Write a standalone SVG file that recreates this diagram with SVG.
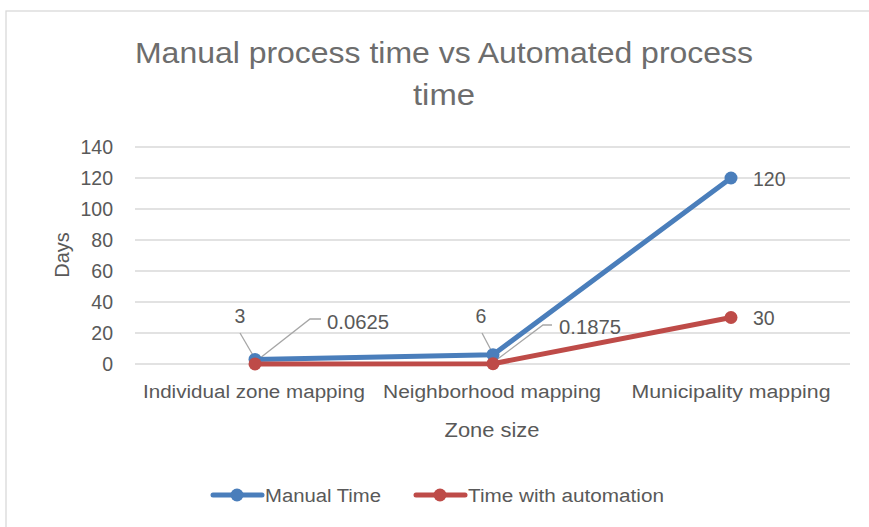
<svg xmlns="http://www.w3.org/2000/svg" width="869" height="527" viewBox="0 0 869 527">
<style>
text{font-family:"Liberation Sans",Arial,sans-serif;fill:#595959}
.tick{font-size:19.5px;text-anchor:end}
.cat{font-size:18px;text-anchor:middle}
.lbl{font-size:19.5px}
.grid{stroke:#d9d9d9;stroke-width:1.3}
.lead{stroke:#a6a6a6;stroke-width:1.3;fill:none}
.blue{stroke:#4a7ebb;stroke-width:5;fill:none;stroke-linejoin:round;stroke-linecap:round}
.red{stroke:#be4b48;stroke-width:5;fill:none;stroke-linejoin:round;stroke-linecap:round}
</style>
<rect x="0" y="0" width="869" height="527" fill="#ffffff"/>
<rect x="6" y="11" width="880" height="540" fill="#ffffff" stroke="#d9d9d9" stroke-width="1.3"/>
<g id="title">
<text x="444" y="63" font-size="30" text-anchor="middle" textLength="618" lengthAdjust="spacingAndGlyphs" style="fill:#6d6d6d">Manual process time vs Automated process</text>
<text x="444" y="105" font-size="30" text-anchor="middle" textLength="62" lengthAdjust="spacingAndGlyphs" style="fill:#6d6d6d">time</text>
</g>
<g id="grid">
<line class="grid" x1="135" y1="147" x2="850" y2="147"/>
<line class="grid" x1="135" y1="178" x2="850" y2="178"/>
<line class="grid" x1="135" y1="209" x2="850" y2="209"/>
<line class="grid" x1="135" y1="240" x2="850" y2="240"/>
<line class="grid" x1="135" y1="271" x2="850" y2="271"/>
<line class="grid" x1="135" y1="302" x2="850" y2="302"/>
<line class="grid" x1="135" y1="333" x2="850" y2="333"/>
<line class="grid" x1="135" y1="364" x2="850" y2="364"/>
</g>
<g id="yaxis">
<text class="tick" x="113" y="154">140</text>
<text class="tick" x="113" y="185">120</text>
<text class="tick" x="113" y="216">100</text>
<text class="tick" x="113" y="247">80</text>
<text class="tick" x="113" y="278">60</text>
<text class="tick" x="113" y="309">40</text>
<text class="tick" x="113" y="340">20</text>
<text class="tick" x="113" y="371">0</text>
<text x="69" y="255" font-size="20" text-anchor="middle" transform="rotate(-90 69 255)">Days</text>
</g>
<g id="xaxis">
<text class="cat" x="254" y="398" textLength="222" lengthAdjust="spacingAndGlyphs">Individual zone mapping</text>
<text class="cat" x="492" y="398" textLength="218" lengthAdjust="spacingAndGlyphs">Neighborhood mapping</text>
<text class="cat" x="731" y="398" textLength="199" lengthAdjust="spacingAndGlyphs">Municipality mapping</text>
<text x="492" y="437" font-size="20" text-anchor="middle" textLength="95" lengthAdjust="spacingAndGlyphs">Zone size</text>
</g>
<g id="connectors">
<polyline class="lead" points="240,333 254,357"/>
<polyline class="lead" points="255,362 310,319 321,319"/>
<polyline class="lead" points="482,333 492,352"/>
<polyline class="lead" points="495,361 543,325 552,325"/>
</g>
<g id="series-manual">
<polyline class="blue" points="255,359.4 493,354.7 731,178"/>
<circle cx="255" cy="359.4" r="6.5" fill="#4a7ebb"/>
<circle cx="493" cy="354.7" r="6.5" fill="#4a7ebb"/>
<circle cx="731" cy="178" r="6.5" fill="#4a7ebb"/>
</g>
<g id="series-auto">
<polyline class="red" points="255,363.9 493,363.7 731,317.5"/>
<circle cx="255" cy="363.9" r="6.5" fill="#be4b48"/>
<circle cx="493" cy="363.7" r="6.5" fill="#be4b48"/>
<circle cx="731" cy="317.5" r="6.5" fill="#be4b48"/>
</g>
<g id="labels">
<text class="lbl" x="240" y="323" text-anchor="middle">3</text>
<text class="lbl" x="327" y="329" textLength="62" lengthAdjust="spacingAndGlyphs">0.0625</text>
<text class="lbl" x="481" y="323" text-anchor="middle">6</text>
<text class="lbl" x="559" y="334" textLength="62" lengthAdjust="spacingAndGlyphs">0.1875</text>
<text class="lbl" x="753" y="186">120</text>
<text class="lbl" x="753" y="325">30</text>
</g>
<g id="legend">
<line x1="213" y1="495" x2="262" y2="495" stroke="#4a7ebb" stroke-width="5" stroke-linecap="round"/>
<circle cx="237" cy="495" r="6.5" fill="#4a7ebb"/>
<text x="265" y="502" font-size="18" textLength="116" lengthAdjust="spacingAndGlyphs">Manual Time</text>
<line x1="416" y1="495" x2="465" y2="495" stroke="#be4b48" stroke-width="5" stroke-linecap="round"/>
<circle cx="440" cy="495" r="6.5" fill="#be4b48"/>
<text x="468" y="502" font-size="18" textLength="196" lengthAdjust="spacingAndGlyphs">Time with automation</text>
</g>
</svg>
